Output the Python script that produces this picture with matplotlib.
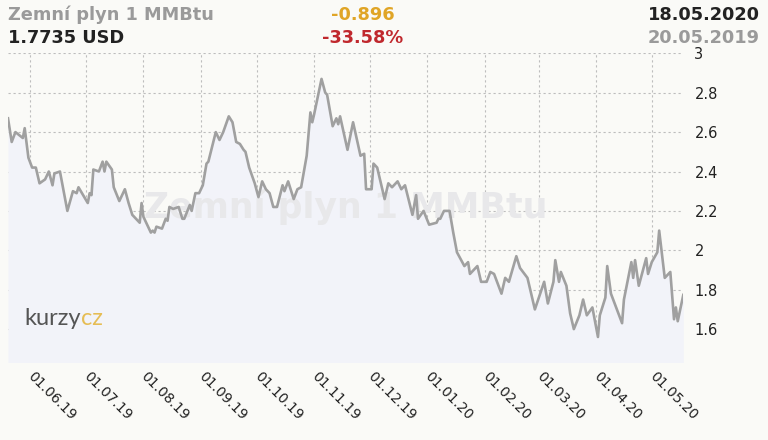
import numpy as np
import pandas as pd
import matplotlib
matplotlib.use('Agg')
import matplotlib.pyplot as plt
import matplotlib.dates as mdates

# ── data ──────────────────────────────────────────────────────────────────────
dates = ['2019-05-20', '2019-05-22', '2019-05-24', '2019-05-28', '2019-05-29', '2019-05-31',
         '2019-06-02', '2019-06-04', '2019-06-06', '2019-06-09', '2019-06-11', '2019-06-13',
         '2019-06-14', '2019-06-17', '2019-06-21', '2019-06-24', '2019-06-26', '2019-06-27',
         '2019-07-02', '2019-07-03', '2019-07-04', '2019-07-05', '2019-07-08', '2019-07-10',
         '2019-07-11', '2019-07-12', '2019-07-15', '2019-07-16', '2019-07-19', '2019-07-22',
         '2019-07-24', '2019-07-26', '2019-07-30', '2019-07-31', '2019-08-01', '2019-08-03',
         '2019-08-05', '2019-08-06', '2019-08-07', '2019-08-08', '2019-08-11', '2019-08-13',
         '2019-08-14', '2019-08-15', '2019-08-17', '2019-08-20', '2019-08-22', '2019-08-23',
         '2019-08-26', '2019-08-27', '2019-08-29', '2019-08-31', '2019-09-01', '2019-09-02',
         '2019-09-04', '2019-09-05', '2019-09-09', '2019-09-11', '2019-09-13', '2019-09-16',
         '2019-09-18', '2019-09-20', '2019-09-22', '2019-09-24', '2019-09-25', '2019-09-27',
         '2019-09-30', '2019-10-02', '2019-10-04', '2019-10-06', '2019-10-08', '2019-10-10',
         '2019-10-12', '2019-10-15', '2019-10-16', '2019-10-18', '2019-10-21', '2019-10-23',
         '2019-10-25', '2019-10-28', '2019-10-30', '2019-10-31', '2019-11-01', '2019-11-05',
         '2019-11-07', '2019-11-08', '2019-11-11', '2019-11-13', '2019-11-14', '2019-11-15',
         '2019-11-19', '2019-11-22', '2019-11-26', '2019-11-28', '2019-11-29', '2019-12-02',
         '2019-12-03', '2019-12-05', '2019-12-09', '2019-12-11', '2019-12-13', '2019-12-16',
         '2019-12-18', '2019-12-20', '2019-12-24', '2019-12-26', '2019-12-27', '2019-12-30',
         '2020-01-02', '2020-01-06', '2020-01-07', '2020-01-08', '2020-01-10', '2020-01-13',
         '2020-01-15', '2020-01-17', '2020-01-21', '2020-01-23', '2020-01-24', '2020-01-28',
         '2020-01-30', '2020-02-02', '2020-02-04', '2020-02-06', '2020-02-10', '2020-02-12',
         '2020-02-14', '2020-02-18', '2020-02-20', '2020-02-24', '2020-02-28', '2020-03-04',
         '2020-03-06', '2020-03-09', '2020-03-10', '2020-03-12', '2020-03-13', '2020-03-16',
         '2020-03-18', '2020-03-20', '2020-03-23', '2020-03-25', '2020-03-27', '2020-03-30',
         '2020-04-02', '2020-04-03', '2020-04-06', '2020-04-07', '2020-04-09', '2020-04-15',
         '2020-04-16', '2020-04-20', '2020-04-21', '2020-04-22', '2020-04-24', '2020-04-28',
         '2020-04-29', '2020-05-01', '2020-05-04', '2020-05-05', '2020-05-08', '2020-05-11',
         '2020-05-13', '2020-05-14', '2020-05-15', '2020-05-18']
prices = [2.67, 2.55, 2.60, 2.57, 2.62, 2.47,
          2.42, 2.42, 2.34, 2.36, 2.40, 2.33,
          2.39, 2.40, 2.20, 2.30, 2.29, 2.32,
          2.24, 2.29, 2.28, 2.41, 2.40, 2.45,
          2.40, 2.45, 2.41, 2.32, 2.25, 2.31,
          2.24, 2.18, 2.14, 2.24, 2.17, 2.13,
          2.09, 2.10, 2.09, 2.12, 2.11, 2.16,
          2.15, 2.22, 2.21, 2.22, 2.16, 2.16,
          2.23, 2.20, 2.29, 2.29, 2.31, 2.33,
          2.44, 2.45, 2.60, 2.56, 2.60, 2.68,
          2.65, 2.55, 2.54, 2.51, 2.50, 2.42,
          2.34, 2.27, 2.35, 2.31, 2.29, 2.22,
          2.22, 2.33, 2.30, 2.35, 2.26, 2.31,
          2.32, 2.48, 2.70, 2.65, 2.69, 2.87,
          2.80, 2.79, 2.63, 2.67, 2.64, 2.68,
          2.51, 2.65, 2.48, 2.49, 2.31, 2.31,
          2.44, 2.42, 2.26, 2.34, 2.32, 2.35,
          2.31, 2.33, 2.18, 2.28, 2.16, 2.20,
          2.13, 2.14, 2.16, 2.16, 2.20, 2.20,
          2.09, 1.99, 1.92, 1.94, 1.88, 1.92,
          1.84, 1.84, 1.89, 1.88, 1.78, 1.86,
          1.84, 1.97, 1.91, 1.86, 1.70, 1.84,
          1.73, 1.84, 1.95, 1.84, 1.89, 1.82,
          1.68, 1.60, 1.67, 1.75, 1.67, 1.71,
          1.56, 1.67, 1.76, 1.92, 1.78, 1.63,
          1.75, 1.94, 1.86, 1.95, 1.82, 1.96,
          1.88, 1.94, 1.99, 2.10, 1.86, 1.89,
          1.65, 1.71, 1.64, 1.7735]
y_ticks = [1.6, 1.8, 2.0, 2.2, 2.4, 2.6, 2.8, 3.0]
y_labels = ['1.6', '1.8', '2', '2.2', '2.4', '2.6', '2.8', '3']

title = 'Zemní plyn 1 MMBtu'
last_price = '1.7735 USD'
change_abs = '-0.896'
change_pct = '-33.58%'
date_to = '18.05.2020'
date_from = '20.05.2019'

# ── figure ────────────────────────────────────────────────────────────────────
bg = '#fafaf7'
x = pd.to_datetime(dates)
fig = plt.figure(figsize=(7.68, 4.40), dpi=100, facecolor=bg)
ax = fig.add_axes([8/768, 1-362/440, (683.3-8)/768, (362-53.3)/440])
ax.set_facecolor(bg)

ax.fill_between(x, prices, 1.0, color='#f2f3f9', lw=0, zorder=1)
ax.text(0.5, 0.5, title, transform=ax.transAxes, ha='center', va='center',
        fontsize=25, fontweight='bold', color='#e8e8ea', zorder=2)
ax.plot(x, prices, color='#a0a0a0', lw=1.9, solid_joinstyle='round', zorder=3)

ax.set_xlim(x[0], x[-1])
ax.set_ylim(1.433, 3.0)
for s in ax.spines.values(): s.set_visible(False)

ax.xaxis.set_major_locator(mdates.MonthLocator())
ax.xaxis.set_major_formatter(mdates.DateFormatter('%d.%m.%y'))
ax.yaxis.tick_right()
ax.set_yticks(y_ticks)
ax.set_yticklabels(y_labels)
ax.tick_params(axis='y', length=0, pad=8, labelsize=10.5, labelcolor='#222222')
ax.tick_params(axis='x', length=0, pad=9, labelsize=10, labelcolor='#222222')
for lbl in ax.get_xticklabels():
    lbl.set_rotation(-45); lbl.set_ha('left'); lbl.set_va('center')
    lbl.set_rotation_mode('anchor')
ax.grid(True, color='#bdbdbd', lw=0.8, ls=(0, (2, 2.5)), zorder=0)
ax.set_axisbelow(True)

# kurzy.cz logo
kz = ax.text(16/675.3, 37/308.7, 'kurzy', transform=ax.transAxes, fontsize=17,
             color='#555555', family='Lato', va='baseline', zorder=4)
ax.annotate('cz', xy=(1, 0), xycoords=kz, ha='left', va='bottom', fontsize=17,
            color='#e6bd55', family='Lato', zorder=4)

# header
hs = 12.8
fig.text(8/768, 1-15/440, title, ha='left', va='center', fontsize=hs,
         fontweight='bold', color='#9a9a9a')
fig.text(8/768, 1-38/440, last_price, ha='left', va='center', fontsize=hs,
         fontweight='bold', color='#222222')
fig.text(363/768, 1-15/440, change_abs, ha='center', va='center', fontsize=hs,
         fontweight='bold', color='#e0a526')
fig.text(363/768, 1-38/440, change_pct, ha='center', va='center', fontsize=hs,
         fontweight='bold', color='#c0282d')
fig.text(760/768, 1-15/440, date_to, ha='right', va='center', fontsize=hs,
         fontweight='bold', color='#222222')
fig.text(760/768, 1-38/440, date_from, ha='right', va='center', fontsize=hs,
         fontweight='bold', color='#9a9a9a')

plt.savefig('out.png', dpi=100, facecolor=bg)
